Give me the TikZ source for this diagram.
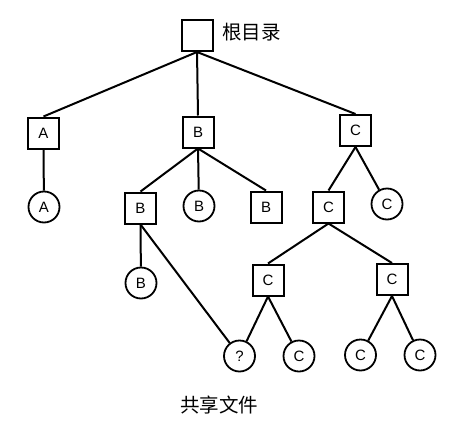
\documentclass[tikz,border=0pt]{standalone}
\usepackage{fontspec}
\setmainfont{Liberation Sans}
\newfontfamily\cjk{Noto Sans CJK SC}
\begin{document}
\begin{tikzpicture}[x=1pt,y=-1pt,
  dirbox/.style={draw,line width=2pt,minimum size=31pt,inner sep=0pt,font=\fontsize{15}{15}\selectfont},
  filecirc/.style={draw,circle,line width=1.8pt,minimum size=31pt,inner sep=0pt,font=\fontsize{15}{15}\selectfont},
  edge/.style={line width=2pt},
  lbl/.style={font=\cjk\fontsize{19.5}{20}\selectfont,inner sep=0pt}]
\useasboundingbox (0,0) rectangle (452,439);
\node[dirbox] (root) at (197,35.5) {};
\node[lbl,anchor=west] (rootlbl) at (222,32) {根目录};
% level 1
\node[dirbox] (A) at (43.5,133) {A};
\node[dirbox] (B) at (198,132) {B};
\node[dirbox] (C) at (355.5,130.5) {C};
% level 2
\node[filecirc] (fA) at (44,207) {A};
\node[dirbox] (B1) at (140.5,208) {B};
\node[filecirc] (fB) at (199,206) {B};
\node[dirbox] (B2) at (266,207) {B};
\node[dirbox] (C1) at (328.5,207) {C};
\node[filecirc] (fC) at (387,204) {C};
% level 3
\node[filecirc] (fB1) at (141,283) {B};
\node[dirbox] (C2) at (268,280) {C};
\node[dirbox] (C3) at (392,279.5) {C};
% level 4
\node[filecirc] (q) at (239.5,356) {?};
\node[filecirc] (fC2) at (299,356) {C};
\node[filecirc] (fC3) at (360.5,355) {C};
\node[filecirc] (fC4) at (420,355) {C};
\node[lbl] (share) at (219,405) {共享文件};
% edges
\draw[edge] (root.south) -- (A.north);
\draw[edge] (root.south) -- (B.north);
\draw[edge] (root.south) -- (C.north);
\draw[edge] (A.south) -- (fA);
\draw[edge] (B.south) -- (B1.north);
\draw[edge] (B.south) -- (fB);
\draw[edge] (B.south) -- (B2.north);
\draw[edge] (C.south) -- (C1.north);
\draw[edge] (C.south) -- (fC);
\draw[edge] (B1.south) -- (fB1);
\draw[edge] (B1.south) -- (q);
\draw[edge] (C1.south) -- (C2.north);
\draw[edge] (C1.south) -- (C3.north);
\draw[edge] (C2.south) -- (q);
\draw[edge] (C2.south) -- (fC2);
\draw[edge] (C3.south) -- (fC3);
\draw[edge] (C3.south) -- (fC4);
\end{tikzpicture}
\end{document}
